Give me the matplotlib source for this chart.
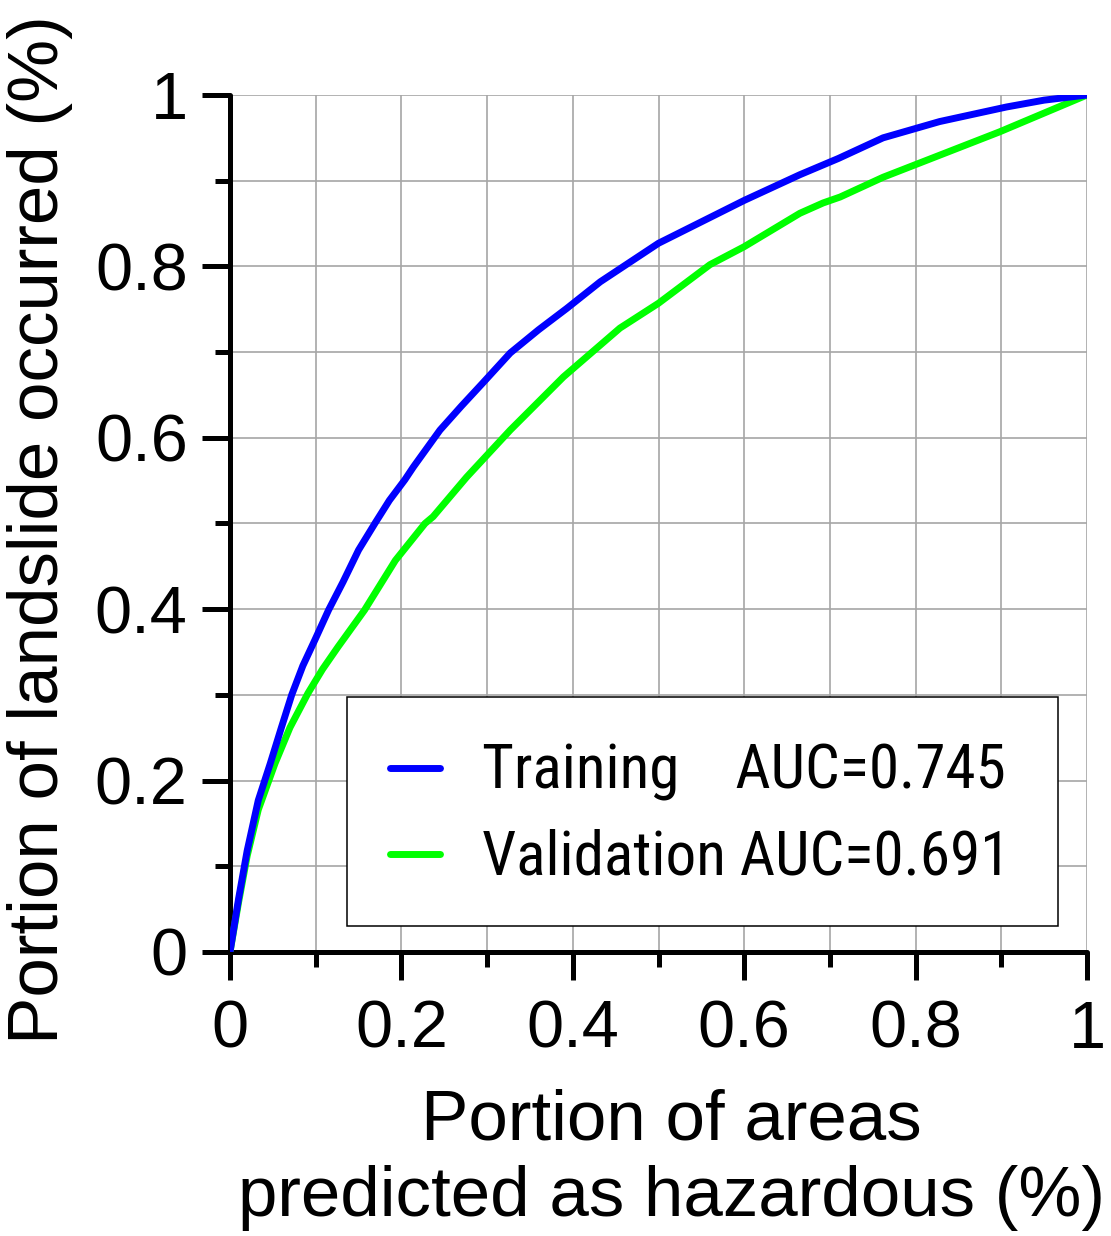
import matplotlib
matplotlib.use("Agg")
import matplotlib.pyplot as plt
from matplotlib.patches import Rectangle
from matplotlib.ticker import MultipleLocator

plt.rcParams['font.family'] = ['Liberation Sans', 'DejaVu Sans']

# ROC curves
train_x = [0, 0.010, 0.020, 0.033, 0.047, 0.060, 0.072, 0.085, 0.099, 0.115, 0.132, 0.150,
           0.169, 0.186, 0.204, 0.214, 0.245, 0.270, 0.295, 0.327, 0.360, 0.393, 0.432,
           0.500, 0.600, 0.665, 0.710, 0.762, 0.828, 0.906, 0.950, 1.0]
train_y = [0, 0.062, 0.118, 0.177, 0.220, 0.262, 0.300, 0.334, 0.364, 0.399, 0.432, 0.469,
           0.500, 0.527, 0.551, 0.566, 0.609, 0.637, 0.664, 0.699, 0.726, 0.751, 0.782,
           0.827, 0.877, 0.907, 0.926, 0.950, 0.969, 0.986, 0.994, 1.0]

valid_x = [0, 0.010, 0.020, 0.033, 0.0525, 0.070, 0.091, 0.108, 0.126, 0.157, 0.193, 0.2275,
           0.237, 0.276, 0.327, 0.389, 0.455, 0.500, 0.560, 0.600, 0.665, 0.692, 0.712, 0.762,
           0.898, 1.0]
valid_y = [0, 0.058, 0.112, 0.166, 0.220, 0.262, 0.302, 0.330, 0.356, 0.399, 0.457, 0.500,
           0.508, 0.554, 0.609, 0.671, 0.728, 0.757, 0.802, 0.823, 0.862, 0.874, 0.881, 0.904,
           0.957, 1.0]

labels = ['Training    AUC=0.745', 'Validation AUC=0.691']
colors = ['#0000ff', '#00ff00']
ticks = [0, 0.2, 0.4, 0.6, 0.8, 1.0]
tick_labels = ['0', '0.2', '0.4', '0.6', '0.8', '1']

fig = plt.figure(figsize=(11.11, 12.36), dpi=100)
ax = fig.add_axes([230 / 1111, 1 - 952 / 1236, 857 / 1111, 857 / 1236])

ax.plot(valid_x, valid_y, color=colors[1], lw=5, solid_capstyle='round',
        solid_joinstyle='round', zorder=3)
ax.plot(train_x, train_y, color=colors[0], lw=5, solid_capstyle='round',
        solid_joinstyle='round', zorder=4)

ax.set_xlim(0, 1)
ax.set_ylim(0, 1)
ax.set_xticks(ticks)
ax.set_yticks(ticks)
ax.set_xticklabels(tick_labels)
ax.set_yticklabels(tick_labels)
ax.xaxis.set_minor_locator(MultipleLocator(0.1))
ax.yaxis.set_minor_locator(MultipleLocator(0.1))

ax.grid(True, which='both', color='#a6a6a6', lw=1.2, zorder=0)
ax.set_axisbelow(True)

for s in ['top', 'right']:
    ax.spines[s].set_visible(False)
for s in ['left', 'bottom']:
    ax.spines[s].set_linewidth(3.6)
    ax.spines[s].set_capstyle('round')

ax.tick_params(which='major', direction='out', length=20.5, width=3.6, labelsize=48, pad=10)
ax.tick_params(which='minor', direction='out', length=10.5, width=3.6)
ax.tick_params(axis='x', which='major', pad=14)

fig.text(40 / 1111, 1 - 530 / 1236, 'Portion of landslide occurred (%)', rotation=90,
         ha='center', va='center', fontsize=51)
fig.text(671 / 1111, 1 - 1160 / 1236, 'Portion of areas\npredicted as hazardous (%)',
         ha='center', va='center', ma='center', fontsize=51, linespacing=1.2)

# legend box
ax.add_patch(Rectangle((0.1365, 0.0303), 0.8295, 0.2672, transform=ax.transAxes,
                       facecolor='white', edgecolor='black', lw=1.1, zorder=6))

h = [ax.lines[1], ax.lines[0]]
leg = ax.legend(h, labels, loc='upper left', bbox_to_anchor=(0.1867, 0.2439),
                borderaxespad=0, borderpad=0, frameon=False,
                handlelength=0.82, handletextpad=0.69, labelspacing=0.45,
                prop={'family': ['Roboto Condensed', 'Liberation Sans'], 'size': 44})
leg.set_zorder(7)
for hd in leg.legend_handles:
    hd.set_linewidth(5)
    hd.set_solid_capstyle('round')

fig.savefig('out.png', dpi=100)
